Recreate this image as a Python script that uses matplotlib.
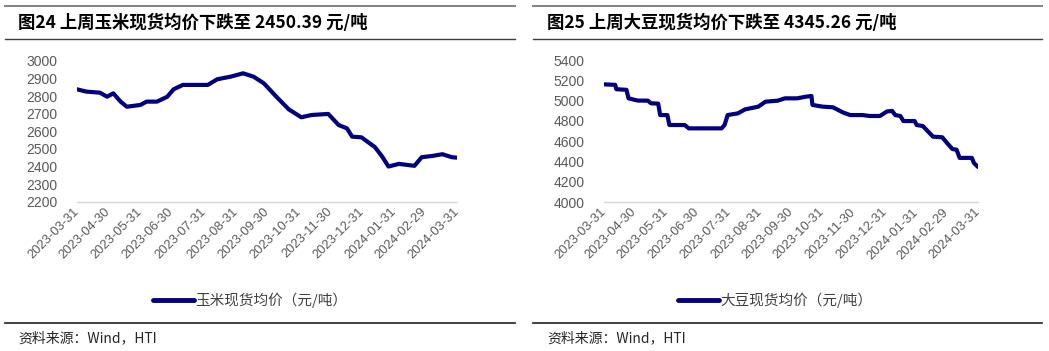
import matplotlib
matplotlib.use("Agg")
import matplotlib.pyplot as plt
import matplotlib.dates as mdates
from matplotlib.lines import Line2D
import pandas as pd

plt.rcParams['font.family'] = ['Liberation Sans', 'Noto Sans CJK SC', 'DejaVu Sans']

# 玉米现货均价（元/吨）
corn_dates = ['2023-03-31', '2023-04-09', '2023-04-22', '2023-04-29', '2023-05-05',
              '2023-05-12', '2023-05-18', '2023-05-31', '2023-06-06', '2023-06-16',
              '2023-06-26', '2023-07-02', '2023-07-11', '2023-08-04', '2023-08-13',
              '2023-08-26', '2023-09-07', '2023-09-17', '2023-09-27', '2023-10-09',
              '2023-10-21', '2023-11-02', '2023-11-12', '2023-11-28', '2023-12-08',
              '2023-12-16', '2023-12-21', '2023-12-30', '2024-01-12', '2024-01-19',
              '2024-01-25', '2024-02-04', '2024-02-19', '2024-02-26', '2024-03-07',
              '2024-03-17', '2024-03-26', '2024-03-31']
corn_values = [2839, 2826, 2820, 2797, 2816,
               2769, 2740, 2750, 2769, 2769,
               2797, 2839, 2864, 2864, 2896,
               2911, 2930, 2911, 2873, 2797,
               2725, 2680, 2693, 2699, 2636,
               2617, 2570, 2566, 2510, 2456,
               2400, 2415, 2404, 2453, 2460,
               2470, 2453, 2450.39]

# 大豆现货均价（元/吨）
soy_dates = ['2023-03-31', '2023-04-11', '2023-04-12', '2023-04-22', '2023-04-24',
             '2023-05-03', '2023-05-13', '2023-05-16', '2023-05-23', '2023-05-25',
             '2023-06-01', '2023-06-03', '2023-06-18', '2023-06-22', '2023-07-24',
             '2023-07-27', '2023-07-30', '2023-08-09', '2023-08-16', '2023-08-29',
             '2023-09-05', '2023-09-17', '2023-09-24', '2023-10-06', '2023-10-15',
             '2023-10-20', '2023-10-21', '2023-10-31', '2023-11-10', '2023-11-20',
             '2023-11-27', '2023-12-09', '2023-12-16', '2023-12-26', '2024-01-02',
             '2024-01-07', '2024-01-10', '2024-01-15', '2024-01-18', '2024-01-29',
             '2024-01-31', '2024-02-06', '2024-02-16', '2024-02-25', '2024-03-01',
             '2024-03-06', '2024-03-10', '2024-03-13', '2024-03-25', '2024-03-27',
             '2024-03-31']
soy_values = [5160, 5155, 5112, 5106, 5022,
              5000, 4999, 4973, 4970, 4857,
              4857, 4759, 4759, 4726, 4726,
              4759, 4857, 4874, 4913, 4940,
              4989, 4999, 5022, 5022, 5039,
              5045, 4957, 4940, 4934, 4882,
              4857, 4857, 4848, 4848, 4893,
              4898, 4857, 4848, 4798, 4798,
              4759, 4749, 4644, 4638, 4578,
              4522, 4516, 4435, 4435, 4385,
              4345.26]

month_ticks = pd.date_range('2023-03-31', '2024-03-31', freq='ME')

W, H = 1049, 351
fig = plt.figure(figsize=(W / 100, H / 100), dpi=100)

cjk = ['Noto Sans CJK SC', 'DejaVu Sans']
navy = '#000080'
gray_txt = '#595959'


def panel(left_px, right_px, top_px, bot_px, dates, vals, ymin, ymax, ystep,
          title, legend, x0, x1, tx):
    ax = fig.add_axes([left_px / W, 1 - bot_px / H,
                       (right_px - left_px) / W, (bot_px - top_px) / H])
    ax.plot(pd.to_datetime(dates), vals, color=navy, lw=3.0,
            solid_capstyle='round', solid_joinstyle='round')
    ax.set_xlim(pd.Timestamp('2023-03-31'), pd.Timestamp('2024-03-31'))
    ax.set_ylim(ymin, ymax)
    ax.set_yticks(range(ymin, ymax + 1, ystep))
    ax.set_xticks(month_ticks)
    ax.xaxis.set_major_formatter(mdates.DateFormatter('%Y-%m-%d'))
    for s in ['top', 'right', 'left']:
        ax.spines[s].set_visible(False)
    ax.spines['bottom'].set_color('#d9d9d9')
    ax.spines['bottom'].set_linewidth(1.0)
    ax.tick_params(axis='both', length=0, colors=gray_txt)
    ax.tick_params(axis='y', labelsize=10, pad=14)
    ax.tick_params(axis='x', labelsize=9.3, pad=6)
    for lb in ax.get_xticklabels():
        lb.set_rotation(45)
        lb.set_ha('right')
        lb.set_va('center')
        lb.set_rotation_mode('anchor')

    # 图例
    lx0, lx1, ly = legend[1], legend[2], legend[3]
    fig.add_artist(Line2D([lx0 / W, lx1 / W], [1 - ly / H, 1 - ly / H],
                          color=navy, lw=3.5, solid_capstyle='round'))
    fig.text((lx1 + 1) / W, 1 - ly / H, legend[0], fontsize=10.5, color='#404040',
             family=cjk, va='center', ha='left')

    # 标题和分隔线
    fig.add_artist(Line2D([x0 / W, x1 / W], [1 - 5.7 / H, 1 - 5.7 / H],
                          color='#808080', lw=1.4))
    fig.add_artist(Line2D([x0 / W, x1 / W], [1 - 39.3 / H, 1 - 39.3 / H],
                          color='#404040', lw=1.0))
    fig.add_artist(Line2D([x0 / W, x1 / W], [1 - 323.3 / H, 1 - 323.3 / H],
                          color='#202020', lw=1.2))
    fig.text(tx / W, 1 - 22.5 / H, title, fontsize=12.5, fontweight='bold',
             color='black', family=cjk, va='center', ha='left')
    fig.text(tx / W, 1 - 338 / H, '资料来源：Wind，HTI', fontsize=10,
             color='#262626', family=cjk, va='center', ha='left')
    return ax


panel(77, 457, 61, 201.7, corn_dates, corn_values, 2200, 3000, 100,
      '图24 上周玉米现货均价下跌至 2450.39 元/吨',
      ('玉米现货均价（元/吨）', 153, 194, 300), 5, 515, 18)
panel(604, 978, 60, 202, soy_dates, soy_values, 4000, 5400, 200,
      '图25 上周大豆现货均价下跌至 4345.26 元/吨',
      ('大豆现货均价（元/吨）', 678, 719, 300), 533, 1042, 547)

fig.savefig('out.png', dpi=100, facecolor='white')
